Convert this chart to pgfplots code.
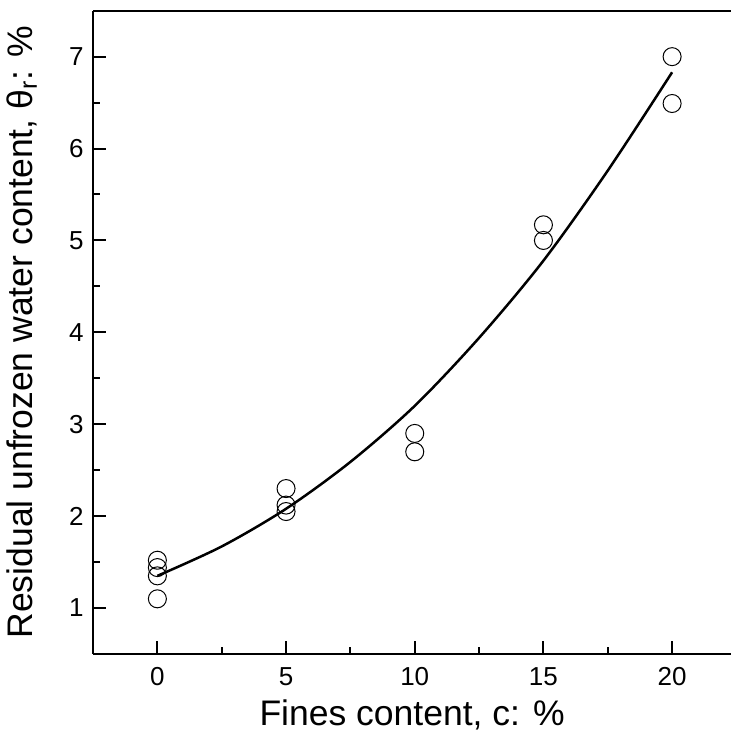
\documentclass[border=0pt]{standalone}
\usepackage{fontspec}
\setmainfont{Liberation Sans}
\usepackage{pgfplots}
\pgfplotsset{compat=1.18}
\begin{document}
\begin{tikzpicture}
\begin{axis}[name=ax, scale only axis, width=638pt, height=643pt,
  xmin=-2.5, xmax=22.3, ymin=0.5, ymax=7.5,
  axis x line=box, axis y line=left,
  axis line style={-, line width=2pt},
  xtick={0,5,10,15,20}, ytick={1,2,3,4,5,6,7},
  minor x tick num=1, minor y tick num=1,
  xtick pos=left, ytick pos=left,
  tick align=inside,
  major tick length=13pt, minor tick length=7pt,
  every tick/.style={line width=2pt, black},
  /pgf/number format/assume math mode=true,
  every tick label/.append style={font=\fontsize{26}{26}\selectfont},
  xticklabel style={yshift=-10pt},
  yticklabel style={xshift=-6pt},
  label style={font=\fontsize{35.5}{35.5}\selectfont},
  xlabel={Fines content, c: \%},
  ylabel={Residual unfrozen water content, θ\textsubscript{r}: \%},
  xlabel style={at={(axis description cs:0.5,-0.111)}, anchor=base},
  ylabel style={at={(axis description cs:-0.0956,0.5)}, anchor=base},
  clip=false]
\addplot[only marks, mark=o, mark size=9pt, mark options={line width=1pt}] coordinates {
  (0,1.52) (0,1.44) (0,1.35) (0,1.10)
  (5,2.30) (5,2.12) (5,2.05)
  (10,2.90) (10,2.70)
  (15,5.17) (15,5.00)
  (20,7.00) (20,6.49)
};
\addplot[smooth, line width=2.5pt, black] coordinates {
  (0,1.35) (2.5,1.67) (5,2.08) (7.5,2.59) (10,3.20) (12.5,3.94) (15,4.78) (17.5,5.76) (20,6.83)
};
\end{axis}
\pgfresetboundingbox
\path ([xshift=-93pt,yshift=-81pt]ax.south west) rectangle ([yshift=10.7pt]ax.north east);
\end{tikzpicture}
\end{document}
